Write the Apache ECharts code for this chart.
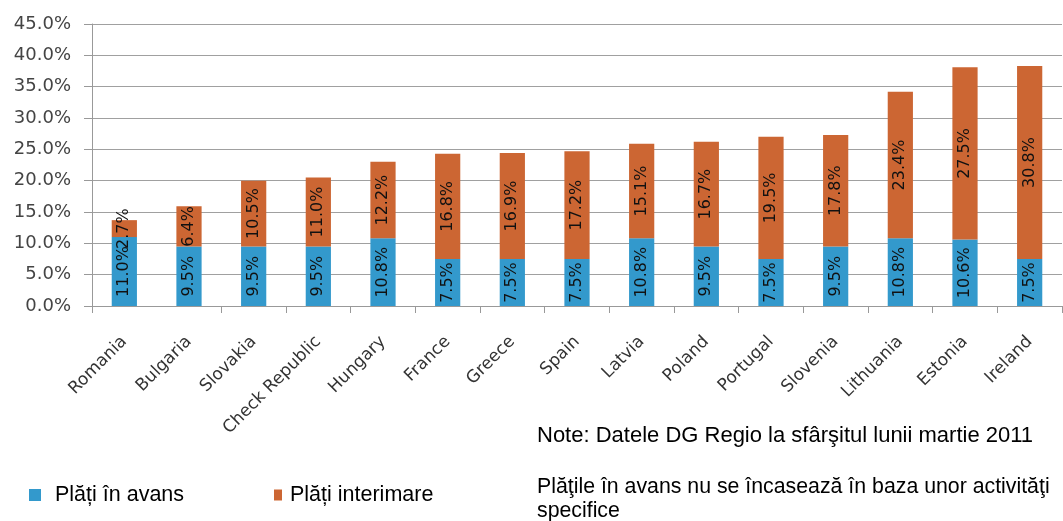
<!DOCTYPE html>
<html><head><meta charset="utf-8">
<script src="https://cdn.jsdelivr.net/npm/echarts@6/dist/echarts.min.js"></script>
<style>html,body{margin:0;padding:0;background:#fff}#c{width:1063px;height:521px}</style>
</head><body><div id="c"></div>
<script>
const categories = ["Romania","Bulgaria","Slovakia","Check Republic","Hungary","France","Greece","Spain","Latvia","Poland","Portugal","Slovenia","Lithuania","Estonia","Ireland"];
const avans = [11.0, 9.5, 9.5, 9.5, 10.8, 7.5, 7.5, 7.5, 10.8, 9.5, 7.5, 9.5, 10.8, 10.6, 7.5];
const interimare = [2.7, 6.4, 10.5, 11.0, 12.2, 16.8, 16.9, 17.2, 15.1, 16.7, 19.5, 17.8, 23.4, 27.5, 30.8];
const yTicks = [0, 5, 10, 15, 20, 25, 30, 35, 40, 45];
const seriesNames = ["Plăți în avans", "Plăți interimare"];
const noteLines = ["Note: Datele DG Regio la sfârşitul lunii martie 2011", "Plăţile în avans nu se încasează în baza unor activităţi", "specifice"];

const BLUE = '#3399cc', ORANGE = '#cc6633';
const chart = echarts.init(document.getElementById('c'));
const labelCfg = {
  show: true, position: 'inside', rotate: 90, color: '#111',
  fontFamily: 'DejaVu Sans', fontSize: 16,
  formatter: p => p.value.toFixed(1) + '%'
};
chart.setOption({
  animation: false,
  grid: { left: 92, right: 1, top: 24, bottom: 215 },
  xAxis: {
    type: 'category', data: categories,
    axisLine: { lineStyle: { color: '#999' } },
    axisTick: { show: true, length: 7, interval: (i) => i !== 1, lineStyle: { color: '#999' } },
    axisLabel: { rotate: 45, color: '#333', fontFamily: 'DejaVu Sans', fontSize: 17, margin: 33, interval: 0 }
  },
  yAxis: {
    type: 'value', min: yTicks[0], max: yTicks[yTicks.length-1], interval: 5,
    axisLine: { show: true, lineStyle: { color: '#999' } },
    axisTick: { show: true, length: 8, lineStyle: { color: '#999' } },
    splitLine: { lineStyle: { color: '#a0a0a0' } },
    axisLabel: { color: '#444', fontFamily: 'DejaVu Sans', fontSize: 18, margin: 21, formatter: v => v.toFixed(1) + '%' }
  },
  legend: [
    { data: [seriesNames[0]], left: 29, top: 482, padding: 0, itemWidth: 12, itemHeight: 12, icon: 'rect',
      textStyle: { fontFamily: 'Liberation Sans', fontSize: 21.5, lineHeight: 22, color: '#000', padding: [4,0,0,9] } },
    { data: [seriesNames[1]], left: 274, top: 482, padding: 0, itemWidth: 8, itemHeight: 11, icon: 'rect',
      textStyle: { fontFamily: 'Liberation Sans', fontSize: 21.5, lineHeight: 22, color: '#000', padding: [4,0,0,3] } }
  ],
  graphic: [
    { type: 'text', x: 537, y: 436, style: { text: noteLines[0], font: '22px "Liberation Sans"', fill: '#000', verticalAlign: 'middle' } },
    { type: 'text', x: 537, y: 487, style: { text: noteLines[1], font: '21.3px "Liberation Sans"', fill: '#000', verticalAlign: 'middle' } },
    { type: 'text', x: 537, y: 511, style: { text: noteLines[2], font: '21.3px "Liberation Sans"', fill: '#000', verticalAlign: 'middle' } }
  ],
  series: [
    { name: seriesNames[0], type: 'bar', stack: 's', data: avans, barWidth: '39%', itemStyle: { color: BLUE }, label: labelCfg },
    { name: seriesNames[1], type: 'bar', stack: 's', data: interimare, barWidth: '39%', itemStyle: { color: ORANGE }, label: labelCfg }
  ]
});
</script></body></html>
